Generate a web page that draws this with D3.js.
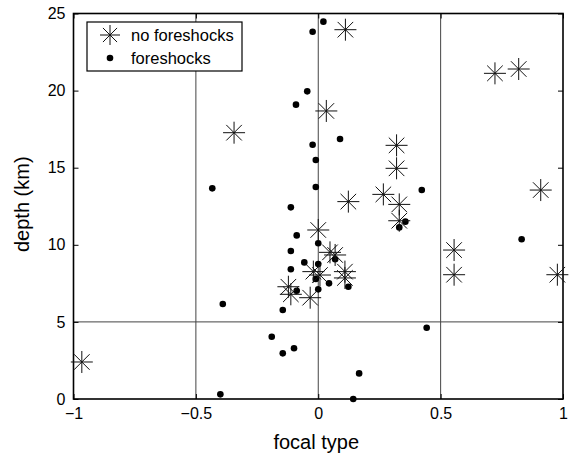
<!DOCTYPE html>
<html>
<head>
<meta charset="utf-8">
<script src="https://cdn.jsdelivr.net/npm/d3@7"></script>
<style>
  body { margin: 0; background: #fff; }
  svg { display: block; font-family: "Liberation Sans", Arial, sans-serif; }
</style>
</head>
<body>
<div id="chart"></div>
<script>
// no foreshocks (asterisks)
const noForeX = [-0.966, -0.344, 0.111, 0.033, 0.32, 0.32, 0.266, 0.123, 0.331, 0.331,
  0.722, 0.819, 0.909, 0.555, 0.555, 0.977, 0.0, 0.048, 0.069, -0.02, 0.007,
  0.109, 0.109, -0.122, -0.112, -0.033];
const noForeY = [2.40, 17.27, 23.95, 18.68, 16.45, 14.96, 13.27, 12.80, 12.62, 11.56,
  21.12, 21.40, 13.55, 9.66, 8.06, 8.06, 10.96, 9.51, 9.34, 8.26, 8.04,
  8.26, 7.85, 7.28, 6.79, 6.57];

// foreshocks (dots)
const foreX = [0.021, -0.023, -0.045, -0.091, 0.089, -0.023, -0.01, -0.01, -0.433, -0.112,
  0.423, 0.331, 0.356, 0.831, 0.443, 0.167, 0.143, -0.088, -0.112, -0.057,
  -0.112, -0.088, -0.145, -0.39, -0.19, -0.099, -0.145, -0.4, 0.0, 0.0,
  0.069, -0.01, 0.0, 0.044, 0.123];
const foreY = [24.47, 23.82, 19.95, 19.09, 16.86, 16.49, 15.5, 13.75, 13.66, 12.43,
  13.55, 11.13, 11.5, 10.36, 4.62, 1.66, 0.0, 10.61, 9.6, 8.86,
  8.41, 7.02, 5.77, 6.16, 4.04, 3.29, 2.96, 0.3, 10.1, 8.75,
  9.06, 7.78, 7.11, 7.5, 7.28];

const xTicks = [-1, -0.5, 0, 0.5, 1];
const yTicks = [0, 5, 10, 15, 20, 25];
const gridX = [-0.5, 0, 0.5];
const gridY = [5];
const legendLabels = ["no foreshocks", "foreshocks"];

const W = 572, H = 455;
const margin = { top: 13.5, right: 9, bottom: 56, left: 73.5 };
const width = W - margin.left - margin.right;
const height = H - margin.top - margin.bottom;

const svg = d3.select("#chart").append("svg")
  .attr("width", W)
  .attr("height", H);

const g = svg.append("g")
  .attr("transform", `translate(${margin.left},${margin.top})`);

const x = d3.scaleLinear().domain([-1, 1]).range([0, width]);
const y = d3.scaleLinear().domain([0, 25]).range([height, 0]);

// grid lines
g.selectAll(".gx").data(gridX).enter().append("line")
  .attr("x1", d => x(d)).attr("x2", d => x(d))
  .attr("y1", 0).attr("y2", height)
  .attr("stroke", "#444").attr("stroke-width", 1);
g.selectAll(".gy").data(gridY).enter().append("line")
  .attr("x1", 0).attr("x2", width)
  .attr("y1", d => y(d)).attr("y2", d => y(d))
  .attr("stroke", "#444").attr("stroke-width", 1);

// axes, ticks pointing inward
const fmt = d3.format("");
const axBottom = g.append("g")
  .attr("transform", `translate(0,${height})`)
  .call(d3.axisBottom(x).tickValues(xTicks).tickSize(-5).tickPadding(9).tickFormat(fmt));
const axLeft = g.append("g")
  .call(d3.axisLeft(y).tickValues(yTicks).tickSize(-5).tickPadding(8));
const axTop = g.append("g")
  .call(d3.axisTop(x).tickValues(xTicks).tickSize(-5).tickFormat(""));
const axRight = g.append("g")
  .attr("transform", `translate(${width},0)`)
  .call(d3.axisRight(y).tickValues(yTicks).tickSize(-5).tickFormat(""));

[axBottom, axLeft, axTop, axRight].forEach(a => {
  a.select(".domain").remove();
  a.selectAll("line").attr("stroke", "#000");
  a.selectAll("text")
    .style("font-size", "16px")
    .style("font-family", "'Liberation Sans', Arial, sans-serif")
    .attr("fill", "#000");
});

// box
g.append("rect")
  .attr("x", 0).attr("y", 0)
  .attr("width", width).attr("height", height)
  .attr("fill", "none")
  .attr("stroke", "#000")
  .attr("stroke-width", 1.6);

// asterisk marker: + and x
function asterisk(sel, r) {
  const d = r / Math.SQRT2;
  const p = `M${-r},0H${r}M0,${-r}V${r}M${-d},${-d}L${d},${d}M${-d},${d}L${d},${-d}`;
  sel.append("path")
    .attr("d", p)
    .attr("fill", "none")
    .attr("stroke", "#111")
    .attr("stroke-width", 1);
}

// foreshocks
g.selectAll(".dot")
  .data(foreX.map((v, i) => [v, foreY[i]]))
  .enter().append("circle")
  .attr("class", "dot")
  .attr("cx", d => x(d[0]))
  .attr("cy", d => y(d[1]))
  .attr("r", 3.3)
  .attr("fill", "#000");

// no foreshocks
g.selectAll(".star")
  .data(noForeX.map((v, i) => [v, noForeY[i]]))
  .enter().append("g")
  .attr("class", "star")
  .attr("transform", d => `translate(${x(d[0])},${y(d[1])})`)
  .each(function () { asterisk(d3.select(this), 11); });

// axis labels
svg.append("text")
  .attr("x", margin.left + width / 2 - 2)
  .attr("y", 449)
  .attr("text-anchor", "middle")
  .style("font-size", "20px")
  .text("focal type");

svg.append("text")
  .attr("transform", `translate(29,${margin.top + height / 2 - 2}) rotate(-90)`)
  .attr("text-anchor", "middle")
  .style("font-size", "20px")
  .text("depth (km)");

// legend
const leg = svg.append("g");
leg.append("rect")
  .attr("x", 87).attr("y", 22)
  .attr("width", 155).attr("height", 49)
  .attr("fill", "#fff")
  .attr("stroke", "#000")
  .attr("stroke-width", 1.2);
const l1 = leg.append("g").attr("transform", "translate(110,35)");
asterisk(l1, 10);
leg.append("circle").attr("cx", 110).attr("cy", 58).attr("r", 3.3).attr("fill", "#000");
leg.selectAll(".lt").data(legendLabels).enter().append("text")
  .attr("x", 131)
  .attr("y", (d, i) => 35 + i * 23)
  .attr("dy", "0.35em")
  .style("font-size", "16.5px")
  .text(d => d);
</script>
</body>
</html>
